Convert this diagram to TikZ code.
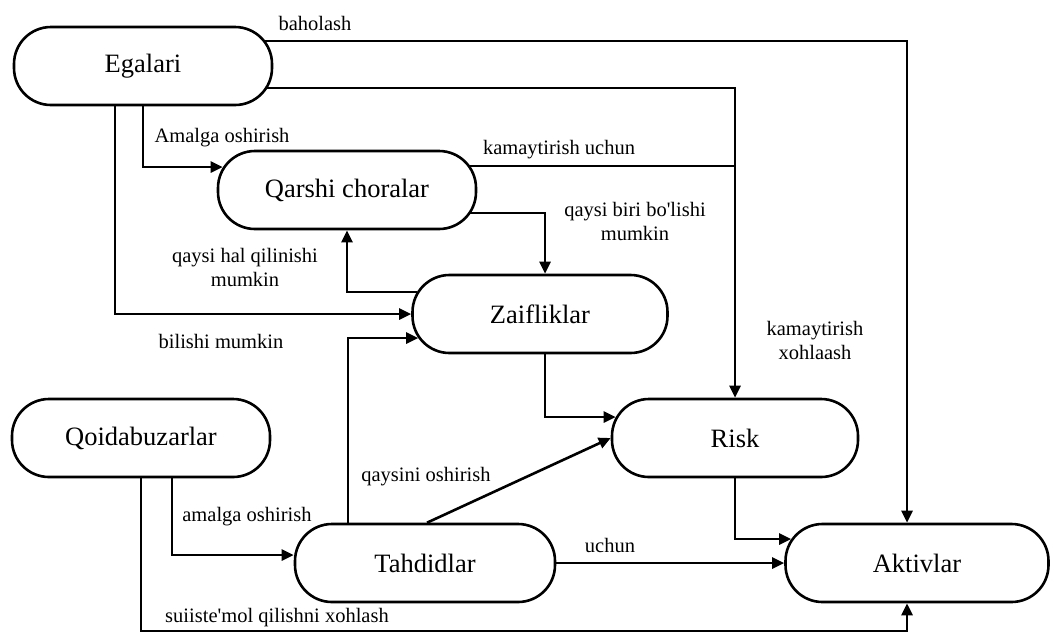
\documentclass[tikz,border=0pt]{standalone}
\usepackage{fontspec}
\setmainfont{Liberation Serif}
\usetikzlibrary{arrows.meta,calc}
\begin{document}
\begin{tikzpicture}[x=1pt,y=-1pt,
  box/.style={draw, line width=2.6pt, rounded corners=37pt, minimum height=78pt, inner sep=0pt, font=\fontsize{26.5}{30}\selectfont},
  lbl/.style={font=\fontsize{20.5}{24}\selectfont, align=center, inner sep=0pt},
  conn/.style={line width=2.6pt},
  arr/.style={conn, -{Triangle[length=12pt,width=11pt]}}]
\useasboundingbox (0,0) rectangle (1054,633);
% nodes
\node[box, minimum width=258pt] (eg) at (143,66) {Egalari};
\node[box, minimum width=258pt] (qc) at (347,190) {Qarshi choralar};
\node[box, minimum width=255pt] (zf) at (540,314) {Zaifliklar};
\node[box, minimum width=258pt] (qb) at (141,438) {Qoidabuzarlar};
\node[box, minimum width=246pt] (rk) at (735,438) {Risk};
\node[box, minimum width=263pt] (ak) at (917,563) {Aktivlar};
\node[box, minimum width=260pt] (th) at (425,563) {Tahdidlar};
% connectors
\draw[arr] ($(eg.east)+(-9,-25)$) -| ($(ak.north)+(-10,0)$);
\draw[arr] ($(eg.east)+(-6,22)$) -| (rk.north);
\draw[conn] ($(qc.east)+(-7,-24)$) -- ($(rk.north |- qc.east)+(0,-24)$);
\draw[arr] (eg.south) |- ($(qc.west)+(6,-23)$);
\draw[arr] ($(eg.south)+(-28,0)$) |- (zf.west);
\draw[arr] ($(qc.east)+(-7,23)$) -| ($(zf.north)+(5,0)$);
\draw[arr] ($(zf.west)+(6,-22)$) -| (qc.south);
\draw[arr] ($(th.north)+(-77,0)$) |- ($(zf.west)+(7,24)$);
\draw[arr] ($(th.north)+(2,0)$) -- (rk.west);
\draw[arr] ($(zf.south)+(5,0)$) |- ($(rk.west)+(5,-21)$);
\draw[arr] ($(qb.south)+(31,0)$) |- ($(th.west)+(0,-8)$);
\draw[arr] (qb.south) -- (qb.south |- 0,631) -| ($(ak.south)+(-10,0)$);
\draw[arr] (th.east) -- (ak.west);
\draw[arr] (rk.south) |- ($(ak.west)+(7,-24)$);
% labels
\node[lbl] (l1) at (315,23) {baholash};
\node[lbl] (l2) at (222,138) {Amalga oshirish};
\node[lbl] (l3) at (559,150) {kamaytirish uchun};
\node[lbl] (l4) at (635,221) {qaysi biri bo\textquotesingle lishi\\mumkin};
\node[lbl] (l5) at (245,267) {qaysi hal qilinishi\\mumkin};
\node[lbl] (l6) at (221,341) {bilishi mumkin};
\node[lbl] (l7) at (815,340) {kamaytirish\\xohlaash};
\node[lbl] (l8) at (426,477) {qaysini oshirish};
\node[lbl] (l9) at (247,517) {amalga oshirish};
\node[lbl] (l10) at (610,545) {uchun};
\node[lbl] (l11) at (277,618) {suiiste\textquotesingle mol qilishni xohlash};
\end{tikzpicture}
\end{document}
